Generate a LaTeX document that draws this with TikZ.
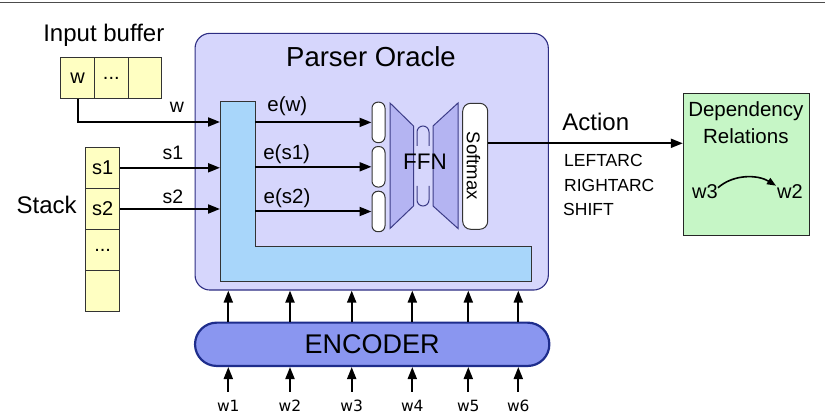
\documentclass[tikz,border=0pt]{standalone}
\usepackage{fontspec}
\setmainfont{Liberation Sans}
\newfontfamily\dejavu{DejaVu Sans}
\usetikzlibrary{arrows.meta,calc}
\definecolor{oraclefill}{RGB}{214,214,252}
\definecolor{oracledraw}{RGB}{45,45,130}
\definecolor{lblue}{RGB}{168,214,250}
\definecolor{cellfill}{RGB}{255,255,194}
\definecolor{ffnfill}{RGB}{180,180,242}
\definecolor{ffndraw}{RGB}{60,60,135}
\definecolor{greenfill}{RGB}{198,246,198}
\definecolor{encfill}{RGB}{138,150,240}
\definecolor{encdraw}{RGB}{30,45,140}
\newcommand{\fsz}[1]{\fontsize{#1}{#1}\selectfont}
\begin{document}
\begin{tikzpicture}[x=1pt,y=-1pt,
  arr/.style={draw=black,line width=2pt,-{Triangle[length=12pt,width=9pt]}},
  thinborder/.style={draw=black!80,line width=1pt},
  cellbox/.style={thinborder,fill=cellfill,minimum width=33.7pt,minimum height=41.2pt,inner sep=0pt,font=\fsz{20}},
  pill/.style={thinborder,fill=white,rounded corners=6pt,minimum width=13pt,minimum height=40.5pt,inner sep=0pt},
  ffnpart/.style={draw=ffndraw,fill=ffnfill,line width=1pt},
  lbl/.style={inner sep=0pt,font=\fsz{19.5}},
  elbl/.style={inner sep=0pt,font=\fsz{20.5}},
  actlbl/.style={inner sep=0pt,anchor=west,font=\fsz{17.5}},
  wlbl/.style={inner sep=0pt,font=\dejavu\fsz{15.5}}
]
\useasboundingbox (0,0) rectangle (825,419);
% top rule
\draw[line width=1.8pt,black!70] (0,2.5) -- (825,2.5);

% Parser oracle box
\node[draw=oracledraw,fill=oraclefill,line width=1.1pt,rounded corners=15pt,
      minimum width=353.3pt,minimum height=256.7pt,inner sep=0pt] (oracle) at (371.7,161.7) {};
\node[anchor=base,inner sep=0pt,font=\fsz{27.5}] (otitle) at (371,66.7) {Parser Oracle};

% light blue L shape
\draw[thinborder,fill=lblue] (220,101.7) -- (255,101.7) -- (255,246.7) -- (531.7,246.7)
   -- (531.7,281.7) -- (220,281.7) -- cycle;
\coordinate (Lleft) at (220,0);
\coordinate (Linner) at (255,0);

% input buffer
\node[anchor=base,inner sep=0pt,font=\fsz{24}] (ibtitle) at (103.8,41.7) {Input buffer};
\node[cellbox] (c1) at (77.6,78) {w};
\node[cellbox] (c2) at (111.3,78) {...};
\node[cellbox] (c3) at (145.0,78) {};

% stack
\node[inner sep=0pt,font=\fsz{24}] (stacktitle) at (46.7,205) {Stack};
\node[cellbox] (s1) at (102.7,167.8) {s1};
\node[cellbox] (s2) at (102.7,209.0) {s2};
\node[cellbox] (s3) at (102.7,250.2) {...};
\node[cellbox] (s4) at (102.7,291.4) {};

% arrows into the embedding layer
\coordinate (rowA) at (0,122);
\draw[arr] (c1.south) |- (Lleft |- rowA);
\node[lbl] (lw) at (177,107) {w};
\draw[arr] (s1.east) -- (s1.east -| Lleft);
\node[lbl] (ls1) at (173,153) {s1};
\draw[arr] (s2.east) -- (s2.east -| Lleft);
\node[lbl] (ls2) at (173,197) {s2};

% pills
\node[pill] (p1) at (378.5,122.4) {};
\node[pill] (p2) at (378.5,166.8) {};
\node[pill] (p3) at (378.5,211.5) {};
\draw[arr] (Linner |- p1) -- (p1.west);
\draw[arr] (Linner |- p2) -- (p2.west);
\draw[arr] (Linner |- p3) -- (p3.west);
\node[elbl] (ew) at (287.3,106) {e(w)};
\node[elbl] (es1) at (286.7,154.5) {e(s1)};
\node[elbl] (es2) at (287,198) {e(s2)};

% FFN
\draw[ffnpart] (390,103) -- (413.5,126) -- (413.5,206) -- (390,228.5) -- cycle;
\draw[ffnpart] (458,103) -- (433,126) -- (433,206) -- (458,228.5) -- cycle;
\draw[draw=ffndraw,line width=1pt] (417,146) -- (417,132) arc[start angle=180,end angle=360,radius=6] -- (429,146);
\draw[draw=ffndraw,line width=1pt] (417,186) -- (417,200) arc[start angle=180,end angle=0,radius=6] -- (429,186);
\node[inner sep=0pt,font=\fsz{22.5}] (ffn) at (425,161.5) {FFN};

% softmax
\node[thinborder,fill=white,rounded corners=8pt,minimum width=25pt,minimum height=126pt,inner sep=0pt] (soft) at (475.2,166.3) {};
\node[rotate=-90,inner sep=0pt,font=\fsz{18.5}] (softtxt) at (473.5,165.8) {Softmax};

% dependency relations
\node[draw=black!85,fill=greenfill,line width=1pt,minimum width=126pt,minimum height=142.4pt,inner sep=0pt] (dep) at (746.3,164.5) {};
\node[inner sep=0pt,font=\fsz{20.5}] (dep1) at (745.8,111.7) {Dependency};
\node[inner sep=0pt,font=\fsz{20.5}] (dep2) at (745.8,136) {Relations};
\node[inner sep=0pt,font=\fsz{20}] (dw3) at (705,191.7) {w3};
\node[inner sep=0pt,font=\fsz{20}] (dw2) at (790,191.7) {w2};
\draw[line width=1.6pt,-{Triangle[length=9pt,width=7pt]}] ([yshift=4pt]dw3.east) .. controls +(16,-14) and +(-18,-11) .. ([yshift=6pt,xshift=-1pt]dw2.west);

% action
\coordinate (actstart) at (487.7,143.3);
\draw[arr] (actstart) -- (actstart -| dep.west);
\node[inner sep=0pt,font=\fsz{24}] (action) at (595.8,121.7) {Action};
\node[actlbl] (a1) at (564,160) {LEFTARC};
\node[actlbl] (a2) at (564,185) {RIGHTARC};
\node[actlbl] (a3) at (563,209) {SHIFT};

% encoder
\node[draw=encdraw,fill=encfill,line width=2.2pt,rounded corners=21.6pt,
      minimum width=354.3pt,minimum height=43.3pt,inner sep=0pt,font=\fsz{27}] (enc) at (372.2,344.3) {ENCODER};

\foreach \i/\x in {1/228.3,2/290,3/351.7,4/412.3,5/468.3,6/518.3}{
  \node[wlbl] (w\i) at (\x,405.5) {w\i};
  \coordinate (b\i) at (\x,391.7);
  \draw[arr] (b\i) -- (b\i |- enc.south);
  \draw[arr] (b\i |- enc.north) -- (b\i |- oracle.south);
}
\end{tikzpicture}
\end{document}
